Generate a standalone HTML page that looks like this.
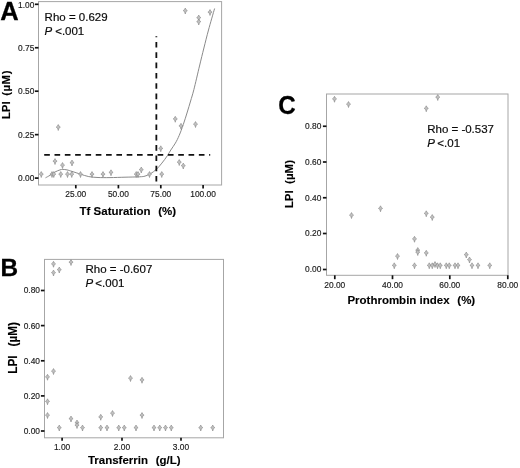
<!DOCTYPE html>
<html><head><meta charset="utf-8"><title>LPI correlations</title>
<style>
html,body{margin:0;padding:0;background:#fff;}
body{width:520px;height:468px;overflow:hidden;font-family:"Liberation Sans",sans-serif;}
svg{display:block;will-change:transform;}
text{font-family:"Liberation Sans",sans-serif;fill:#111;white-space:pre;}
.fr{fill:#fff;stroke:#a6a6a6;stroke-width:1;}
.tk{stroke:#111;stroke-width:1.7;}
.tl{font-size:8.4px;fill:#1a1a1a;stroke:#1a1a1a;stroke-width:0.15px;}
.ds{stroke:#111;stroke-width:1.8;stroke-dasharray:5.65 4.66;}
.pl{font-size:26px;font-weight:bold;fill:#000;stroke:#000;stroke-width:0.3px;}
.an{font-size:11.5px;fill:#0a0a0a;stroke:#0a0a0a;stroke-width:0.18px;}
.ax{font-size:11.8px;font-weight:bold;fill:#000;stroke:#000;stroke-width:0.12px;}
</style></head>
<body>
<svg width="520" height="468" viewBox="0 0 520 468">
<rect width="520" height="468" fill="#fff"/>
<defs><path id="m" d="M0,-2.95 L0.9,-1.3 L2.1,-0.35 L0.75,0.55 L0,3.0 L-0.75,0.55 L-2.1,-0.35 L-0.9,-1.3 Z" fill="#c0c0c0" stroke="#848484" stroke-width="0.6"/></defs>
<rect x="38.5" y="1.6" width="183.1" height="183.4" class="fr"/>
<line x1="34.9" y1="4.3" x2="38.5" y2="4.3" class="tk"/><text x="34.3" y="8.2" text-anchor="end" class="tl">1.00</text><line x1="34.9" y1="47.75" x2="38.5" y2="47.75" class="tk"/><text x="34.3" y="50.65" text-anchor="end" class="tl">0.75</text><line x1="34.9" y1="91.2" x2="38.5" y2="91.2" class="tk"/><text x="34.3" y="94.10000000000001" text-anchor="end" class="tl">0.50</text><line x1="34.9" y1="134.65" x2="38.5" y2="134.65" class="tk"/><text x="34.3" y="137.55" text-anchor="end" class="tl">0.25</text><line x1="34.9" y1="178.1" x2="38.5" y2="178.1" class="tk"/><text x="34.3" y="181.0" text-anchor="end" class="tl">0.00</text>
<line x1="75.8" y1="185.0" x2="75.8" y2="188.4" class="tk"/><text x="75.8" y="197.3" text-anchor="middle" class="tl">25.00</text><line x1="118.4" y1="185.0" x2="118.4" y2="188.4" class="tk"/><text x="118.4" y="197.3" text-anchor="middle" class="tl">50.00</text><line x1="160.8" y1="185.0" x2="160.8" y2="188.4" class="tk"/><text x="160.8" y="197.3" text-anchor="middle" class="tl">75.00</text><line x1="203.1" y1="185.0" x2="203.1" y2="188.4" class="tk"/><text x="203.1" y="197.3" text-anchor="middle" class="tl">100.00</text>
<path d="M45.5,177.8 C46.25,177.38 48.42,176.27 50,175.3 C51.58,174.33 53.33,172.90 55,172 C56.67,171.10 58.70,170.33 60,169.9 C61.30,169.47 61.63,169.40 62.8,169.4 C63.97,169.40 65.47,169.57 67,169.9 C68.53,170.23 69.72,170.68 72,171.4 C74.28,172.12 77.91,173.33 80.7,174.2 C83.49,175.07 85.87,176.05 88.75,176.6 C91.63,177.15 94.46,177.33 98,177.5 C101.54,177.67 105.50,177.65 110,177.6 C114.50,177.55 120.07,177.33 125,177.2 C129.93,177.07 136.27,176.98 139.6,176.8 C142.93,176.62 143.20,176.60 145,176.1 C146.80,175.60 148.48,174.95 150.4,173.8 C152.32,172.65 154.58,170.98 156.5,169.2 C158.42,167.42 160.10,165.33 161.9,163.1 C163.70,160.87 165.82,157.98 167.3,155.8 C168.78,153.62 169.45,152.12 170.8,150 C172.15,147.88 174.00,145.53 175.4,143.1 C176.80,140.67 177.88,138.50 179.2,135.4 C180.52,132.30 181.95,128.40 183.3,124.5 C184.65,120.60 186.08,115.92 187.3,112 C188.52,108.08 189.50,104.75 190.6,101 C191.70,97.25 192.42,95.33 193.9,89.5 C195.38,83.67 197.83,72.92 199.5,66 C201.17,59.08 202.40,54.00 203.9,48 C205.40,42.00 206.72,36.58 208.5,30 C210.28,23.42 213.58,12.08 214.6,8.5" fill="none" stroke="#8a8a8a" stroke-width="1"/>
<line x1="156.35" y1="36.3" x2="156.35" y2="181.4" class="ds" stroke-dashoffset="4.64"/>
<line x1="44.2" y1="154.9" x2="210.2" y2="154.9" class="ds"/>
<use href="#m" x="41.25" y="174.5"/><use href="#m" x="52" y="174.5"/><use href="#m" x="53.75" y="174.5"/><use href="#m" x="55" y="161.5"/><use href="#m" x="58.25" y="127.5"/><use href="#m" x="60.75" y="174.5"/><use href="#m" x="62.5" y="165.5"/><use href="#m" x="67.5" y="174.5"/><use href="#m" x="71.75" y="174.5"/><use href="#m" x="72" y="163"/><use href="#m" x="80.5" y="174.5"/><use href="#m" x="92" y="174.5"/><use href="#m" x="103" y="174.5"/><use href="#m" x="111" y="172.75"/><use href="#m" x="136.25" y="174.5"/><use href="#m" x="138" y="174.5"/><use href="#m" x="141.25" y="170"/><use href="#m" x="149.5" y="174.5"/><use href="#m" x="160.75" y="148.75"/><use href="#m" x="161.75" y="174.5"/><use href="#m" x="175.25" y="119.25"/><use href="#m" x="181" y="126.25"/><use href="#m" x="179.25" y="162.5"/><use href="#m" x="183.25" y="166"/><use href="#m" x="195.5" y="124.5"/><use href="#m" x="185.25" y="11"/><use href="#m" x="198.75" y="18"/><use href="#m" x="198.75" y="22"/><use href="#m" x="210" y="12.5"/>
<text transform="translate(0.3,19.8) scale(1,1)" class="pl" style="font-size:25.5px">A</text>
<text x="44.6" y="20.9" class="an">Rho = 0.629</text>
<text x="44.6" y="35.0" class="an"><tspan font-style="italic">P</tspan><tspan dx="2.9">&lt;.001</tspan></text>
<text transform="translate(10.4,94.7) rotate(-90) scale(0.975,1)" text-anchor="middle" class="ax">LPI  <tspan dx="-0.7" letter-spacing="0.45">(µM)</tspan></text>
<text transform="translate(127.8,215.2) scale(0.975,1)" text-anchor="middle" class="ax">Tf Saturation  <tspan dx="1.4">(%)</tspan></text>
<rect x="44.5" y="259.4" width="179" height="178.4" class="fr"/>
<line x1="40.9" y1="290.5" x2="44.5" y2="290.5" class="tk"/><text x="40.0" y="293.4" text-anchor="end" class="tl">0.80</text><line x1="40.9" y1="325.6" x2="44.5" y2="325.6" class="tk"/><text x="40.0" y="328.5" text-anchor="end" class="tl">0.60</text><line x1="40.9" y1="360.8" x2="44.5" y2="360.8" class="tk"/><text x="40.0" y="363.7" text-anchor="end" class="tl">0.40</text><line x1="40.9" y1="395.9" x2="44.5" y2="395.9" class="tk"/><text x="40.0" y="398.79999999999995" text-anchor="end" class="tl">0.20</text><line x1="40.9" y1="431" x2="44.5" y2="431" class="tk"/><text x="40.0" y="433.9" text-anchor="end" class="tl">0.00</text>
<line x1="62.1" y1="437.8" x2="62.1" y2="440.8" class="tk"/><text x="62.1" y="449.90000000000003" text-anchor="middle" class="tl">1.00</text><line x1="122.0" y1="437.8" x2="122.0" y2="440.8" class="tk"/><text x="122.0" y="449.90000000000003" text-anchor="middle" class="tl">2.00</text><line x1="181.0" y1="437.8" x2="181.0" y2="440.8" class="tk"/><text x="181.0" y="449.90000000000003" text-anchor="middle" class="tl">3.00</text>
<use href="#m" x="47.5" y="377.25"/><use href="#m" x="53.5" y="371.5"/><use href="#m" x="47.5" y="401.75"/><use href="#m" x="47.5" y="415.5"/><use href="#m" x="59.25" y="428"/><use href="#m" x="71" y="419"/><use href="#m" x="77" y="423"/><use href="#m" x="77" y="425.5"/><use href="#m" x="82.5" y="428"/><use href="#m" x="100.75" y="417.25"/><use href="#m" x="100.75" y="428"/><use href="#m" x="107" y="428"/><use href="#m" x="112.5" y="413.5"/><use href="#m" x="118.75" y="428"/><use href="#m" x="124.25" y="428"/><use href="#m" x="130.5" y="378.5"/><use href="#m" x="136" y="428"/><use href="#m" x="142" y="380.25"/><use href="#m" x="142" y="415.5"/><use href="#m" x="154" y="428"/><use href="#m" x="159.75" y="428"/><use href="#m" x="165.5" y="428"/><use href="#m" x="171.25" y="428"/><use href="#m" x="200.75" y="428"/><use href="#m" x="212.75" y="428"/><use href="#m" x="53.5" y="264.25"/><use href="#m" x="53.5" y="273"/><use href="#m" x="59.25" y="270"/><use href="#m" x="71" y="262.5"/>
<text transform="translate(0.4,275.7) scale(0.99,1)" class="pl" style="font-size:24.6px">B</text>
<text x="85.5" y="272.5" class="an">Rho = -0.607</text>
<text x="85.5" y="286.75" class="an"><tspan font-style="italic">P</tspan><tspan dx="2.2">&lt;.001</tspan></text>
<text transform="translate(17.3,347.9) rotate(-90) scale(0.975,1)" text-anchor="middle" class="ax" style="font-size:12.1px">LPI  <tspan dx="2.4">(µM)</tspan></text>
<text transform="translate(134.3,463.8) scale(0.975,1)" text-anchor="middle" class="ax">Transferrin  <tspan dx="1.4">(g/L)</tspan></text>
<rect x="326.5" y="94" width="181.5" height="181.3" class="fr"/>
<line x1="322.9" y1="126.25" x2="326.5" y2="126.25" class="tk"/><text x="321.4" y="129.15" text-anchor="end" class="tl">0.80</text><line x1="322.9" y1="162" x2="326.5" y2="162" class="tk"/><text x="321.4" y="164.9" text-anchor="end" class="tl">0.60</text><line x1="322.9" y1="197.75" x2="326.5" y2="197.75" class="tk"/><text x="321.4" y="200.65" text-anchor="end" class="tl">0.40</text><line x1="322.9" y1="233.5" x2="326.5" y2="233.5" class="tk"/><text x="321.4" y="236.4" text-anchor="end" class="tl">0.20</text><line x1="322.9" y1="269.5" x2="326.5" y2="269.5" class="tk"/><text x="321.4" y="272.4" text-anchor="end" class="tl">0.00</text>
<line x1="334.8" y1="275.3" x2="334.8" y2="279.2" class="tk"/><text x="334.8" y="288.3" text-anchor="middle" class="tl">20.00</text><line x1="392.5" y1="275.3" x2="392.5" y2="279.2" class="tk"/><text x="392.5" y="288.3" text-anchor="middle" class="tl">40.00</text><line x1="449.8" y1="275.3" x2="449.8" y2="279.2" class="tk"/><text x="449.8" y="288.3" text-anchor="middle" class="tl">60.00</text><line x1="507.8" y1="275.3" x2="507.8" y2="279.2" class="tk"/><text x="507.8" y="288.3" text-anchor="middle" class="tl">80.00</text>
<use href="#m" x="351.5" y="215.5"/><use href="#m" x="380.5" y="208.75"/><use href="#m" x="394.25" y="265.75"/><use href="#m" x="397.5" y="256.5"/><use href="#m" x="414.5" y="265.75"/><use href="#m" x="414.5" y="239.25"/><use href="#m" x="417.75" y="250.5"/><use href="#m" x="417.75" y="252.5"/><use href="#m" x="426.25" y="213.75"/><use href="#m" x="426.25" y="253.25"/><use href="#m" x="432.25" y="217.5"/><use href="#m" x="429.25" y="265.75"/><use href="#m" x="432.25" y="265.75"/><use href="#m" x="435" y="264.5"/><use href="#m" x="437.5" y="265.75"/><use href="#m" x="440.25" y="265.75"/><use href="#m" x="446.25" y="265.75"/><use href="#m" x="449.25" y="265.75"/><use href="#m" x="455" y="265.75"/><use href="#m" x="458" y="265.75"/><use href="#m" x="466.25" y="255"/><use href="#m" x="469.5" y="260"/><use href="#m" x="472" y="265.75"/><use href="#m" x="478" y="265.75"/><use href="#m" x="489.75" y="265.75"/><use href="#m" x="334.5" y="99.25"/><use href="#m" x="348.5" y="104.5"/><use href="#m" x="437.75" y="97.5"/><use href="#m" x="426.25" y="108.75"/>
<text transform="translate(278.3,114.1) scale(0.93,1)" class="pl" style="font-size:26px">C</text>
<text x="427.2" y="133" class="an">Rho = -0.537</text>
<text x="427.2" y="147" class="an"><tspan font-style="italic">P</tspan><tspan dx="2.5">&lt;.01</tspan></text>
<text transform="translate(292.7,184.1) rotate(-90) scale(0.975,1)" text-anchor="middle" class="ax">LPI  (µM)</text>
<text transform="translate(411.3,303.9) scale(0.975,1)" text-anchor="middle" class="ax">Prothrombin index  <tspan dx="1.4">(%)</tspan></text>
</svg>
</body></html>
